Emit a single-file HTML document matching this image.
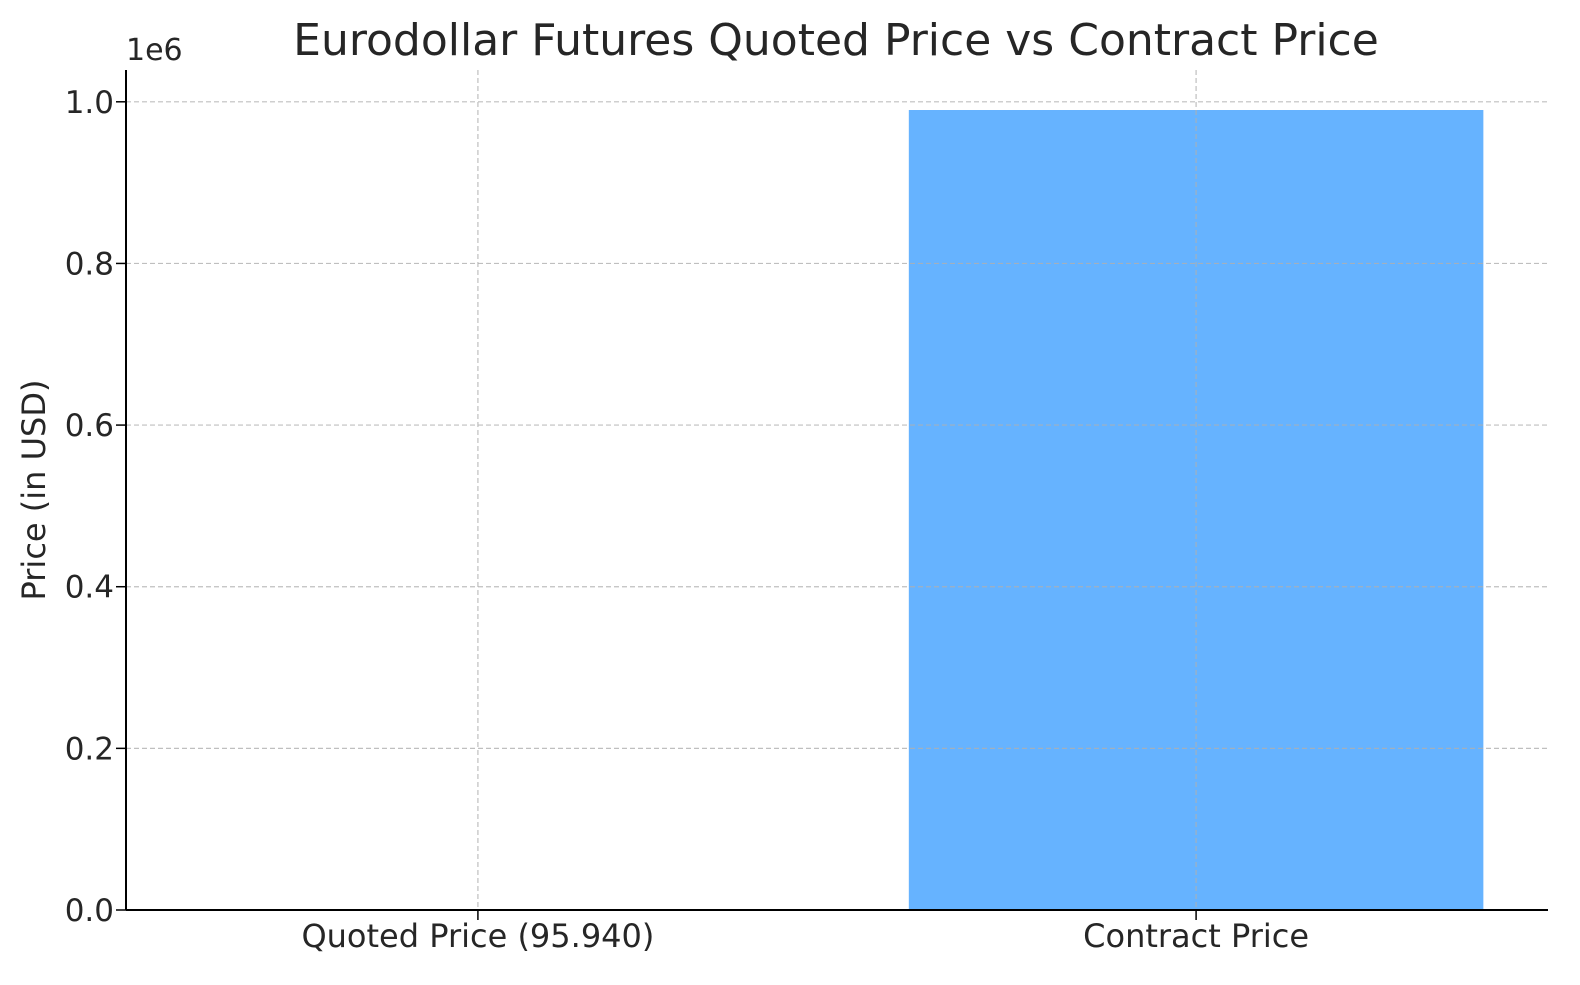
<!DOCTYPE html>
<html><head><meta charset="utf-8"><style>
body{margin:0;background:#fff;}
svg text{font-family:"DejaVu Sans","Liberation Sans",sans-serif;fill:#262626;}
</style></head><body>
<svg id="chart" width="1580" height="980"></svg>
<script>
const categories = ["Quoted Price (95.940)", "Contract Price"];
const values = [95.94, 989850];
const yTicks = [0, 0.2e6, 0.4e6, 0.6e6, 0.8e6, 1.0e6];
const yTickLabels = ["0.0", "0.2", "0.4", "0.6", "0.8", "1.0"];

const L=126,R=1548,T=70,B=910;
const yMax=Math.max(...values)*1.05;
const y=v=>B-(v/yMax)*(B-T);
const xMin=-0.49,xMax=1.49;
const x=i=>L+(i-xMin)/(xMax-xMin)*(R-L);
const svg=document.getElementById('chart');
const NS='http://www.w3.org/2000/svg';
function mk(tag,attrs,text){const e=document.createElementNS(NS,tag);for(const k in attrs)e.setAttribute(k,attrs[k]);if(text!==undefined)e.textContent=text;svg.appendChild(e);return e;}

values.forEach((v,i)=>{
  const w=0.8*(x(1)-x(0));
  const r=mk('rect',{x:x(i)-w/2,y:y(v),width:w,height:B-y(v),fill:'#66b3ff'});
  
  
});
yTicks.forEach((t,i)=>{
  const g=mk('line',{x1:L,x2:R,y1:y(t),y2:y(t),stroke:'#b0b0b0','stroke-width':1.2,'stroke-dasharray':'5,3',opacity:0.8});
  
  
  mk('line',{x1:L-10,x2:L,y1:y(t),y2:y(t),stroke:'#000','stroke-width':1.5});
  const tl=mk('text',{x:L-12,y:y(t)+11,'text-anchor':'end','font-size':31},yTickLabels[i]);
  
  
});
categories.forEach((c,i)=>{
  const g=mk('line',{x1:x(i),x2:x(i),y1:T,y2:B,stroke:'#b0b0b0','stroke-width':1.2,'stroke-dasharray':'5,3',opacity:0.8});
  
  
  mk('line',{x1:x(i),x2:x(i),y1:B,y2:B+10,stroke:'#000','stroke-width':1.5});
  const tl=mk('text',{x:x(i),y:B+37,'text-anchor':'middle','font-size':32},c);
  
  
});
mk('line',{x1:L,x2:L,y1:T,y2:B,stroke:'#000','stroke-width':2});
mk('line',{x1:L,x2:R,y1:B,y2:B,stroke:'#000','stroke-width':2});
</script>
<svg width="1580" height="980" style="position:absolute;left:0;top:0">
<text x="836" y="55" text-anchor="middle" font-size="44">Eurodollar Futures Quoted Price vs Contract Price</text>
<text x="126" y="60" font-size="30">1e6</text>
<text transform="translate(45,490) rotate(-90)" text-anchor="middle" font-size="32">Price (in USD)</text>
</svg>
</body></html>
